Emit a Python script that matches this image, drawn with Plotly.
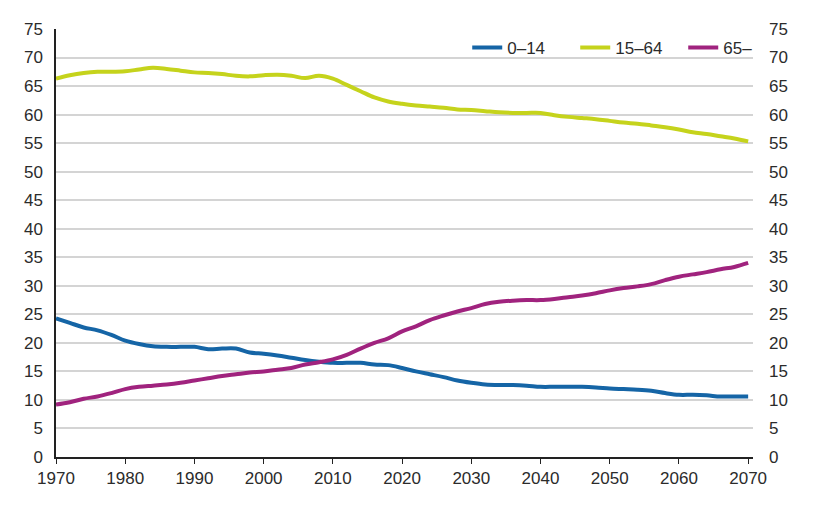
import plotly.graph_objects as go

years = list(range(1970, 2071, 2))
age_0_14 = [24.3, 23.5, 22.7, 22.2, 21.4, 20.4, 19.8, 19.4, 19.3, 19.3,
            19.3, 18.9, 19.0, 19.0, 18.3, 18.1, 17.8, 17.4, 17.0, 16.7,
            16.5, 16.5, 16.5, 16.2, 16.1, 15.6, 15.0, 14.5, 14.0, 13.4,
            13.0, 12.7, 12.6, 12.6, 12.5, 12.3, 12.3, 12.3, 12.3, 12.2,
            12.0, 11.9, 11.8, 11.6, 11.2, 10.9, 10.9, 10.8, 10.6, 10.6,
            10.6]
age_15_64 = [66.3, 66.9, 67.3, 67.5, 67.5, 67.6, 67.9, 68.2, 68.0, 67.7,
             67.4, 67.3, 67.1, 66.8, 66.7, 66.9, 67.0, 66.8, 66.4, 66.8,
             66.3, 65.2, 64.1, 63.0, 62.3, 61.9, 61.6, 61.4, 61.2, 60.9,
             60.8, 60.6, 60.4, 60.3, 60.3, 60.3, 59.9, 59.6, 59.4, 59.2,
             58.9, 58.6, 58.4, 58.1, 57.8, 57.4, 56.9, 56.6, 56.2, 55.8,
             55.3]
age_65 = [9.2, 9.6, 10.2, 10.6, 11.2, 11.9, 12.3, 12.5, 12.7, 13.0,
          13.4, 13.8, 14.2, 14.5, 14.8, 15.0, 15.3, 15.6, 16.2, 16.6,
          17.1, 17.9, 19.0, 20.0, 20.8, 22.0, 22.9, 24.0, 24.8, 25.5,
          26.1, 26.8, 27.2, 27.4, 27.5, 27.5, 27.7, 28.0, 28.3, 28.7,
          29.2, 29.6, 29.9, 30.3, 31.0, 31.6, 32.0, 32.4, 32.9, 33.3,
          34.0]

series_names = ["0\u201314", "15\u201364", "65\u2013"]
series_colors = ["#1565a6", "#c5d31c", "#a0237e"]
series_values = [age_0_14, age_15_64, age_65]

x_ticks = list(range(1970, 2071, 10))
y_ticks = list(range(0, 76, 5))

fig = go.Figure()
for name, color, vals in zip(series_names, series_colors, series_values):
    fig.add_trace(go.Scatter(x=years, y=vals, name=name, mode="lines",
                             line=dict(color=color, width=4),
                             line_shape="spline"))
# invisible trace for right axis
fig.add_trace(go.Scatter(x=[years[0]], y=[0], yaxis="y2", showlegend=False,
                         mode="markers", marker=dict(opacity=0),
                         hoverinfo="skip"))

font = dict(family="Liberation Sans, Arial, sans-serif", size=17, color="#2b2b2b")

fig.update_layout(
    width=815, height=509,
    margin=dict(l=48, r=70, t=16, b=60),
    paper_bgcolor="white", plot_bgcolor="white",
    font=font,
    showlegend=True,
    legend=dict(orientation="h", x=0.59, xanchor="left", y=0.956, yanchor="middle",
                font=dict(size=17, color="#2b2b2b"), bgcolor="rgba(0,0,0,0)",
                entrywidth=63, entrywidthmode="pixels", tracegroupgap=0),
    xaxis=dict(range=[1970, 2070.7], tickvals=x_ticks, showgrid=False,
               showline=True, linecolor="#222222", linewidth=1.5,
               ticks="outside", ticklen=5, tickcolor="#222222", tickwidth=1.2,
               zeroline=False, tickfont=font),
    yaxis=dict(range=[0, 75], tickvals=y_ticks, showgrid=True,
               gridcolor="#d4d4d4", gridwidth=1.5, zeroline=False,
               showline=True, linecolor="#222222", linewidth=1.5,
               ticks="", ticklabelstandoff=8, tickfont=font),
    yaxis2=dict(range=[0, 75], tickvals=y_ticks, overlaying="y", side="right",
                showgrid=False, zeroline=False, showline=False, ticks="",
                ticklabelstandoff=15, tickfont=font),
)

fig.write_html("out.html")
